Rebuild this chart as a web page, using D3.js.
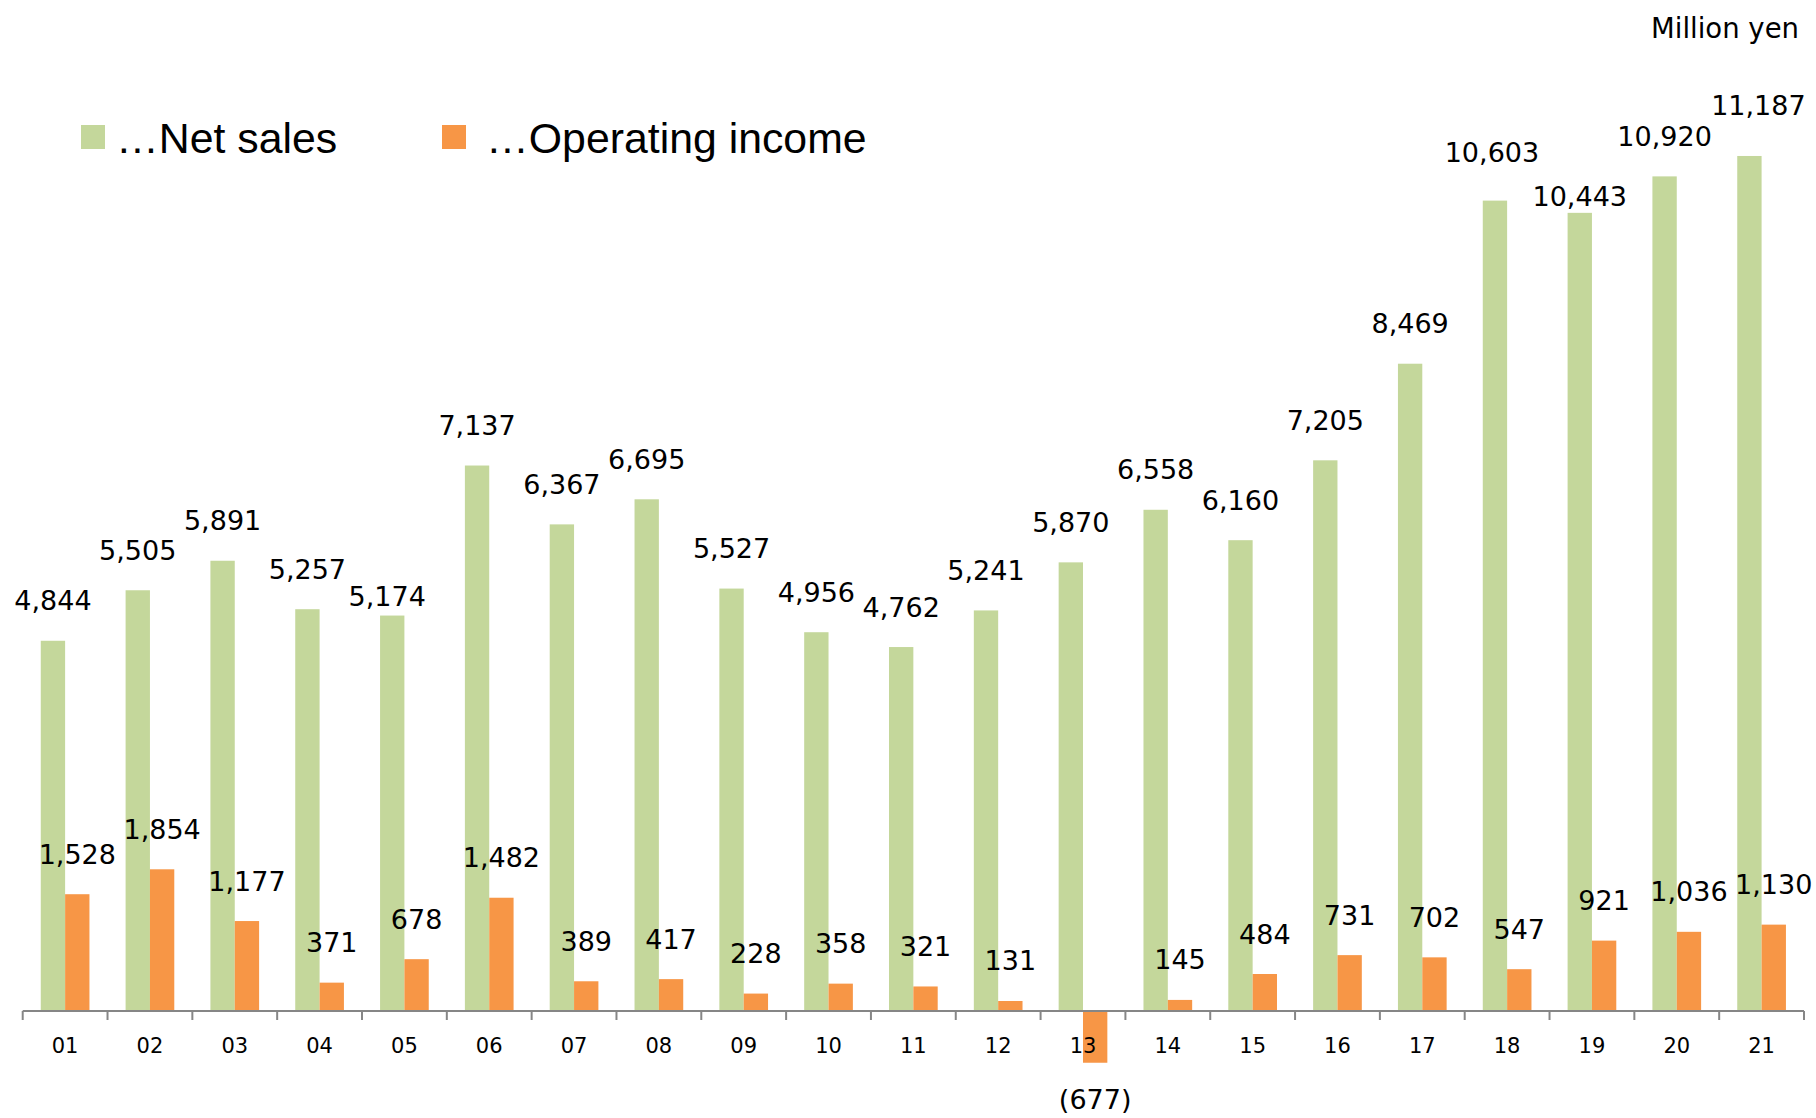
<!DOCTYPE html>
<head>
  <meta charset="utf-8">
  <script src="https://d3js.org/d3.v7.min.js"></script>
</head>
<style>
  body { margin: 0; background: #fff; }
  text { font-family: "DejaVu Sans", Verdana, sans-serif; fill: #000; }
  .legend text { font-family: "Liberation Sans", Arial, sans-serif; }
</style>
<body>
<div id="chart"></div>
<script>
'use strict';

var years = ["01","02","03","04","05","06","07","08","09","10","11","12","13","14","15","16","17","18","19","20","21"];
var netSales = [4844,5505,5891,5257,5174,7137,6367,6695,5527,4956,4762,5241,5870,6558,6160,7205,8469,10603,10443,10920,11187];
var opIncome = [1528,1854,1177,371,678,1482,389,417,228,358,321,131,-677,145,484,731,702,547,921,1036,1130];

var width = 1816, height = 1118;
var axisY = 1011;

var svg = d3.select("#chart").append("svg")
  .attr("width", width).attr("height", height);

var x = d3.scaleBand().domain(years).range([22.7, 1804]);
var bw = x.bandwidth();
var barW = bw * 0.287;
var inner = (bw - 2 * barW) / 2;

var y = d3.scaleLinear().domain([0, 12000]).range([axisY, axisY - 12000 * 0.07643]);

var fmt = d3.format(",");

// label nudges (hand-placed labels in the original)
var salesNudge = {"05": [-5, 21], "18": [-3, -8], "19": [0, 24], "21": [9, -10]};

var rows = years.map(function(yr, i) { return {year: yr, sales: netSales[i], income: opIncome[i]}; });

// bars
svg.append("g").selectAll("rect").data(rows).enter().append("rect")
  .attr("x", d => x(d.year) + inner)
  .attr("y", d => y(d.sales))
  .attr("width", barW)
  .attr("height", d => y(0) - y(d.sales))
  .attr("fill", "#C4D79B");

svg.append("g").selectAll("rect").data(rows).enter().append("rect")
  .attr("x", d => x(d.year) + inner + barW)
  .attr("y", d => y(Math.max(0, d.income)))
  .attr("width", barW)
  .attr("height", d => Math.abs(y(0) - y(d.income)))
  .attr("fill", "#F79646");

// axis
var axis = svg.append("g").attr("transform", "translate(0," + axisY + ")");
axis.append("line").attr("x1", 22.7).attr("x2", 1804).attr("y1", 0).attr("y2", 0)
  .attr("stroke", "#868686").attr("stroke-width", 2);
var tickPos = years.map(d => x(d)).concat([x(years[years.length - 1]) + bw]);
axis.selectAll("line.tick").data(tickPos).enter().append("line").attr("class", "tick")
  .attr("x1", d => d).attr("x2", d => d).attr("y1", 0).attr("y2", 9)
  .attr("stroke", "#868686").attr("stroke-width", 2);
axis.selectAll("text").data(years).enter().append("text")
  .attr("x", d => x(d) + bw / 2)
  .attr("y", 42)
  .attr("text-anchor", "middle")
  .style("font-size", "21px")
  .text(d => d);

// value labels
svg.append("g").selectAll("text").data(rows).enter().append("text")
  .attr("x", d => x(d.year) + inner + barW / 2 + (salesNudge[d.year] ? salesNudge[d.year][0] : 0))
  .attr("y", d => y(d.sales) - 30.5 + (salesNudge[d.year] ? salesNudge[d.year][1] : 0))
  .attr("text-anchor", "middle")
  .style("font-size", "27px")
  .text(d => fmt(d.sales));

svg.append("g").selectAll("text").data(rows).enter().append("text")
  .attr("x", d => x(d.year) + inner + barW * 1.5)
  .attr("y", d => d.income >= 0 ? y(d.income) - 30.5 : y(d.income) + 46)
  .attr("text-anchor", "middle")
  .style("font-size", "27px")
  .text(d => d.income >= 0 ? fmt(d.income) : "(" + fmt(-d.income) + ")");

// unit
svg.append("text").attr("x", 1799).attr("y", 38).attr("text-anchor", "end")
  .style("font-size", "27.5px").text("Million yen");

// legend
var legend = svg.append("g").attr("class", "legend");
var items = [
  {label: "\u2026Net sales", color: "#C4D79B", x: 81, tx: 116},
  {label: "\u2026Operating income", color: "#F79646", x: 442, tx: 486}
];
legend.selectAll("rect").data(items).enter().append("rect")
  .attr("x", d => d.x).attr("y", 125).attr("width", 24).attr("height", 24)
  .attr("fill", d => d.color);
legend.selectAll("text").data(items).enter().append("text")
  .attr("x", d => d.tx).attr("y", 153)
  .style("font-size", "42.8px")
  .text(d => d.label);
</script>
</body>
